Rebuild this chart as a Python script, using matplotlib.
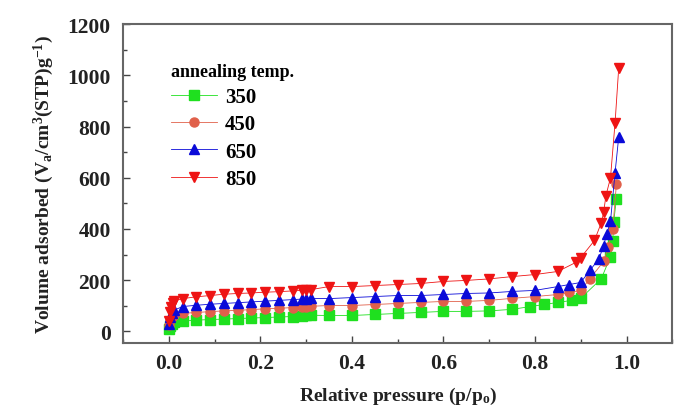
import matplotlib
matplotlib.use('Agg')
import matplotlib.pyplot as plt
from matplotlib.ticker import MultipleLocator

# datos (p/p0, volumen adsorbido)
p_350 = [0.001, 0.003, 0.006, 0.01, 0.03, 0.06, 0.09, 0.12, 0.15, 0.18, 0.21, 0.24, 0.27,
         0.29, 0.30, 0.31, 0.35, 0.40, 0.45, 0.50, 0.55, 0.60, 0.65, 0.70, 0.75, 0.79,
         0.82, 0.85, 0.88, 0.90, 0.945, 0.965, 0.97, 0.972, 0.978]
v_350 = [10, 22, 30, 36, 40, 44, 46, 48, 50, 52, 54, 56, 58,
         60, 62, 63, 62, 62, 66, 70, 74, 78, 78, 80, 86, 97,
         105, 113, 121, 129, 206, 292, 354, 428, 518]

p_450 = [0.001, 0.003, 0.006, 0.01, 0.03, 0.06, 0.09, 0.12, 0.15, 0.18, 0.21, 0.24, 0.27,
         0.29, 0.30, 0.31, 0.35, 0.40, 0.45, 0.50, 0.55, 0.60, 0.65, 0.70, 0.75, 0.80,
         0.85, 0.875, 0.90, 0.92, 0.95, 0.96, 0.97, 0.978]
v_450 = [25, 45, 55, 62, 70, 74, 77, 80, 82, 85, 88, 90, 93,
         95, 97, 98, 101, 101, 105, 109, 113, 117, 117, 121, 129, 136,
         144, 152, 160, 206, 273, 330, 401, 577]

p_650 = [0.001, 0.003, 0.006, 0.01, 0.03, 0.06, 0.09, 0.12, 0.15, 0.18, 0.21, 0.24, 0.27,
         0.29, 0.30, 0.31, 0.35, 0.40, 0.45, 0.50, 0.55, 0.60, 0.65, 0.70, 0.75, 0.80,
         0.85, 0.875, 0.90, 0.92, 0.94, 0.95, 0.957, 0.965, 0.975, 0.983]
v_650 = [30, 55, 70, 82, 97, 102, 106, 109, 112, 115, 118, 121, 124,
         126, 128, 129, 128, 132, 136, 140, 140, 144, 148, 150, 156, 160,
         175, 183, 191, 238, 284, 335, 382, 430, 620, 760]

p_850 = [0.001, 0.003, 0.005, 0.008, 0.012, 0.03, 0.06, 0.09, 0.12, 0.15, 0.18, 0.21, 0.24,
         0.27, 0.29, 0.30, 0.31, 0.35, 0.40, 0.45, 0.50, 0.55, 0.60, 0.65, 0.70, 0.75,
         0.80, 0.85, 0.89, 0.90, 0.93, 0.945, 0.95, 0.955, 0.965, 0.975, 0.983]
v_850 = [40, 75, 95, 110, 120, 128, 135, 140, 145, 148, 150, 153, 155,
         158, 160, 162, 163, 175, 175, 179, 183, 187, 195, 199, 205, 214,
         222, 234, 270, 288, 355, 425, 465, 530, 600, 815, 1030]

series = [
    (p_350, v_350, '350', 's', '#1fe01f'),
    (p_450, v_450, '450', 'o', '#e0604a'),
    (p_650, v_650, '650', '^', '#0a0ad8'),
    (p_850, v_850, '850', 'v', '#ee1414'),
]

plt.rcParams['font.family'] = 'Liberation Serif'
plt.rcParams['font.weight'] = 'bold'
plt.rcParams['axes.labelweight'] = 'bold'
plt.rcParams['mathtext.fontset'] = 'custom'
plt.rcParams['mathtext.rm'] = 'Liberation Serif:bold'
plt.rcParams['mathtext.it'] = 'Liberation Serif:bold'
plt.rcParams['mathtext.bf'] = 'Liberation Serif:bold'
plt.rcParams['mathtext.default'] = 'rm'

fig = plt.figure(figsize=(6.77, 4.06), dpi=100)
ax = fig.add_axes([0.182, 0.153, 0.811, 0.785])

for p, v, nombre, marca, color in series:
    ax.plot(p, v, marker=marca, color=color, lw=0.6, ms=6.5, mec=color, label=nombre)

ax.set_xlim(-0.1, 1.1)
ax.set_ylim(-45, 1200)
ax.xaxis.set_major_locator(MultipleLocator(0.2))
ax.xaxis.set_minor_locator(MultipleLocator(0.1))
ax.yaxis.set_major_locator(MultipleLocator(200))
ax.yaxis.set_minor_locator(MultipleLocator(100))
ax.set_xticks([0.0, 0.2, 0.4, 0.6, 0.8, 1.0])
ax.set_xticklabels(['0.0', '0.2', '0.4', '0.6', '0.8', '1.0'])

ax.tick_params(which='both', direction='in', colors='#444444', labelcolor='#222222',
               top=False, right=False, labelsize=15.5)
ax.tick_params(which='major', length=5, width=1)
ax.tick_params(which='minor', length=3, width=1)
ax.tick_params(axis='y', pad=9)
ax.tick_params(axis='x', pad=7)
for s in ax.spines.values():
    s.set_color('#666666')
    s.set_linewidth(1.5)

ax.set_xlabel('Relative pressure (p/p$_o$)', fontsize=14, color='#222222', labelpad=9)
ax.set_ylabel('Volume adsorbed (V$_a$/cm$^3$(STP)g$^{-1}$)', fontsize=14,
              color='#222222', labelpad=8)

leg = ax.legend(loc='upper left', bbox_to_anchor=(0.06, 0.925), frameon=False,
                title='annealing temp.', fontsize=15, title_fontsize=13,
                handlelength=2.2, labelspacing=0.35, borderpad=0.2, handletextpad=0.4)
leg._legend_box.align = 'left'
leg.get_title().set_fontweight('bold')

fig.savefig('out.png', dpi=100)
